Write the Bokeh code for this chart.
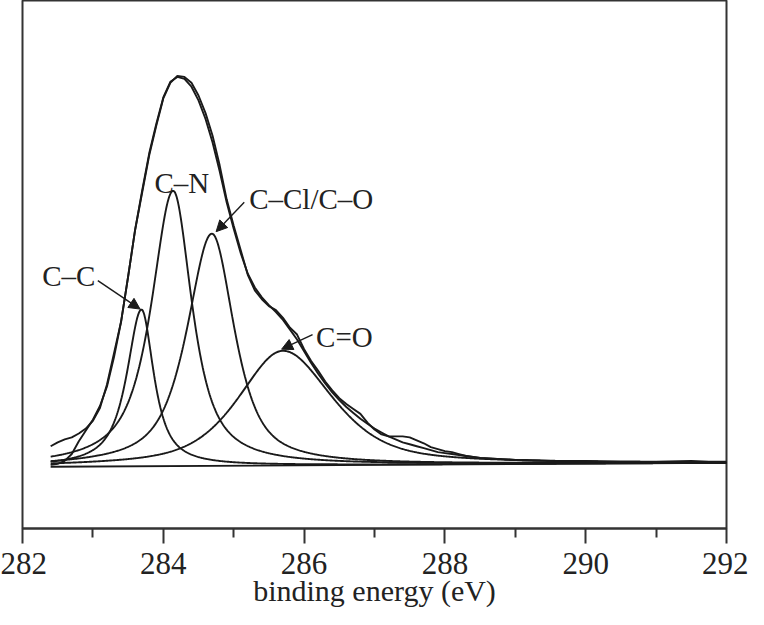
import numpy as np
from bokeh.plotting import figure
from bokeh.models import Range1d, FixedTicker, Arrow, NormalHead, Label
from bokeh.embed import file_html
from bokeh.resources import INLINE

# ---- measured C 1s spectrum (binding energy, eV ; intensity, a.u.) ----
energy = [282.4, 282.5, 282.6, 282.7, 282.8, 282.9, 283.0, 283.1, 283.2, 283.3,
          283.4, 283.5, 283.6, 283.7, 283.8, 283.9, 284.0, 284.1, 284.2, 284.3,
          284.4, 284.5, 284.6, 284.7, 284.8, 284.9, 285.0, 285.1, 285.2, 285.3,
          285.4, 285.5, 285.6, 285.7, 285.8, 285.9, 286.0, 286.1, 286.2, 286.3,
          286.4, 286.5, 286.6, 286.7, 286.8, 286.9, 287.0, 287.1, 287.2, 287.3,
          287.4, 287.5, 287.6, 287.7, 287.8, 287.9, 288.0, 288.1, 288.2, 288.3,
          288.4, 288.5, 289.0, 289.5, 290.0, 290.5, 291.0, 291.5, 292.0]
intensity = [21, 25, 28, 30, 34, 39, 47, 60, 84, 116,
             148, 194, 242, 280, 318, 348, 376, 392, 399, 398,
             392, 379, 361, 338, 308, 273, 246, 221, 196, 180,
             171, 164, 160, 152, 142, 135, 120, 108, 98, 87,
             78, 70, 64, 59, 54, 45, 38, 33, 31, 31,
             31, 30, 27, 24, 20, 18, 16, 15, 13, 11,
             10, 9, 7, 6, 6, 5, 5, 6, 4]

# ---- fitted envelope (same energies) ----
fit_intensity = [2, 3, 6, 13, 26, 37, 48, 62, 82, 112,
                 148, 194, 242, 282, 320, 350, 377, 393, 398, 396,
                 388, 374, 355, 331, 302, 270, 243, 218, 197, 183,
                 173, 165, 158, 150, 140, 130, 118, 106, 95, 85,
                 76, 68, 61, 55, 49, 44, 39, 35, 31, 28,
                 25, 23, 21, 19, 17, 15, 14, 13, 12, 11,
                 10, 9, 7, 6, 5, 5, 4, 4, 4]

# ---- linear background ----
baseline_energy = [282.4, 292.0]
baseline_intensity = [0.0, 4.0]

# ---- fitted components (pseudo-Voigt) ----
peak_names = ["C\u2013C", "C\u2013N", "C\u2013Cl/C\u2013O", "C=O"]
peak_centers = [283.69, 284.14, 284.69, 285.70]
peak_heights = [160.0, 281.0, 237.0, 117.0]
peak_hwhm_low = [0.25, 0.37, 0.42, 0.75]
peak_hwhm_high = [0.21, 0.32, 0.38, 0.83]
peak_lorentz = [0.9, 0.85, 0.75, 0.6]

# ---- axis ----
x_ticks = [282, 284, 286, 288, 290, 292]
x_minor_ticks = [283, 285, 287, 289, 291]
x_label = "binding energy (eV)"

# ---- annotations (data coordinates) ----
label_x = [282.28, 283.875, 285.22, 286.17]
label_y = [195.0, 290.0, 273.0, 133.0]
arrow_from_x = [283.07, None, 285.15, 286.12]
arrow_from_y = [190.0, None, 270.0, 135.0]
arrow_to_x = [283.67, None, 284.75, 285.68]
arrow_to_y = [161.0, None, 240.0, 120.0]

INK = "#1a1a1a"
FONT = "Liberation Serif"
LW = 1.9

grid = np.linspace(baseline_energy[0], baseline_energy[1], 961)
bg = np.interp(grid, baseline_energy, baseline_intensity)


def pseudo_voigt(x, c, h, wl, wr, eta):
    w = np.where(x < c, wl, wr)
    t = (x - c) / w
    return h * ((1 - eta) * np.exp(-np.log(2) * t ** 2) + eta / (1 + t ** 2))


p = figure(width=748, height=609, output_backend="svg", toolbar_location=None,
           x_range=Range1d(282, 292), y_range=Range1d(-63, 476),
           y_axis_location=None, min_border_left=22, min_border_right=22,
           min_border_top=0, min_border_bottom=60)
p.background_fill_color = "white"
p.border_fill_color = "white"
p.outline_line_color = "#333333"
p.outline_line_width = 2
p.xgrid.visible = False
p.ygrid.visible = False

ax = p.xaxis[0]
ax.ticker = FixedTicker(ticks=x_ticks, minor_ticks=x_minor_ticks)
ax.axis_label = x_label
ax.axis_line_color = "#333333"
ax.axis_line_width = 2
ax.major_tick_line_color = "#333333"
ax.major_tick_line_width = 2
ax.minor_tick_line_color = "#333333"
ax.minor_tick_line_width = 2
ax.major_tick_out = 15
ax.major_tick_in = 0
ax.minor_tick_out = 9
ax.minor_tick_in = 0
ax.major_label_text_font = FONT
ax.major_label_text_font_size = "31px"
ax.major_label_text_color = "#222222"
ax.major_label_standoff = 9
ax.axis_label_text_font = FONT
ax.axis_label_text_font_size = "30px"
ax.axis_label_text_font_style = "normal"
ax.axis_label_text_color = "#222222"
ax.axis_label_standoff = -3

# background
p.line(baseline_energy, baseline_intensity, line_color=INK, line_width=LW)

# components
for c, h, wl, wr, eta in zip(peak_centers, peak_heights, peak_hwhm_low,
                             peak_hwhm_high, peak_lorentz):
    comp = pseudo_voigt(grid, c, h, wl, wr, eta)
    p.line(grid, comp + bg, line_color=INK, line_width=LW)

# fitted envelope
p.line(energy, fit_intensity, line_color=INK, line_width=LW)

# measured spectrum
p.line(energy, intensity, line_color=INK, line_width=LW)

# labels and arrows
for name, lx, ly, fx, fy, tx, ty in zip(peak_names, label_x, label_y,
                                        arrow_from_x, arrow_from_y,
                                        arrow_to_x, arrow_to_y):
    p.add_layout(Label(x=lx, y=ly, text=name, text_font=FONT,
                       text_font_size="29px", text_color="#222222",
                       text_align="left", text_baseline="alphabetic"))
    if fx is not None:
        p.add_layout(Arrow(end=NormalHead(size=11, fill_color=INK, line_color=INK),
                           x_start=fx, y_start=fy, x_end=tx, y_end=ty,
                           line_color=INK, line_width=1.4))

open("out.html", "w").write(file_html(p, INLINE))
